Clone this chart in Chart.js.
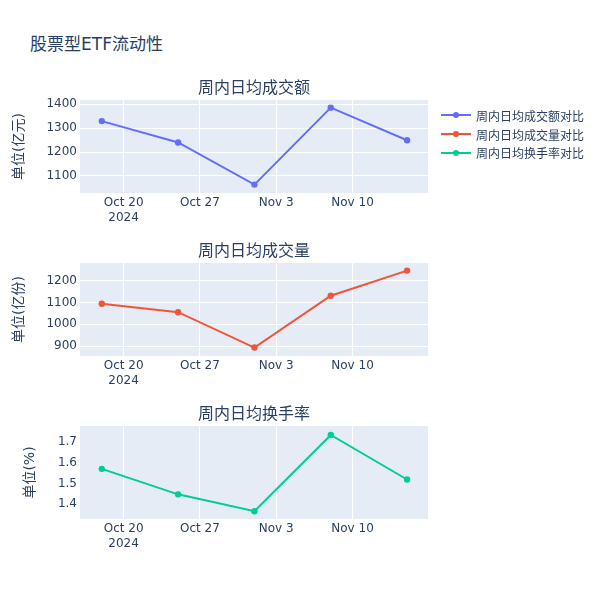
<!DOCTYPE html>
<html>
<head>
<meta charset="utf-8">
<script src="https://cdn.jsdelivr.net/npm/chart.js@4"></script>
<style>
  body { margin: 0; background: #fff; }
  #wrap { position: relative; width: 600px; height: 600px; overflow: hidden;
          font-family: "DejaVu Sans", "Noto Sans CJK SC", sans-serif; color: #2a3f5f; }
  .panel { position: absolute; left: 0; width: 508px; height: 163px; }
  #mainTitle { position: absolute; left: 30px; top: 33px; font-size: 17px; line-height: 22px; }
  #legend { position: absolute; left: 441px; top: 106px; font-size: 12px; }
  .item { height: 18.7px; display: flex; align-items: center; }
  .swatch { position: relative; width: 30px; height: 2px; margin-right: 5px; }
  .swatch span { position: absolute; left: 12px; top: -2px; width: 6px; height: 6px; border-radius: 50%; }
</style>
</head>
<body>
<div id="wrap">
  <div id="mainTitle">股票型ETF流动性</div>
  <div class="panel" style="top:70px"><canvas id="c1"></canvas></div>
  <div class="panel" style="top:233px"><canvas id="c2"></canvas></div>
  <div class="panel" style="top:396px"><canvas id="c3"></canvas></div>
  <div id="legend"></div>
</div>
<script>
// weekly dates (Fridays)
const dates = ['2024-10-18', '2024-10-25', '2024-11-01', '2024-11-08', '2024-11-15'];
const amountValues = [1329, 1240, 1064, 1385, 1249];   // 亿元
const volumeValues = [1095, 1056, 893, 1132, 1248];    // 亿份
const turnoverValues = [1.57, 1.448, 1.367, 1.732, 1.519]; // %

const xTickDates = ['2024-10-20', '2024-10-27', '2024-11-03', '2024-11-10'];
const amountTicks = [1100, 1200, 1300, 1400];
const volumeTicks = [900, 1000, 1100, 1200];
const turnoverTicks = [1.4, 1.5, 1.6, 1.7];

const seriesNames = ['周内日均成交额对比', '周内日均成交量对比', '周内日均换手率对比'];
const panelTitles = ['周内日均成交额', '周内日均成交量', '周内日均换手率'];
const yTitles = ['单位(亿元)', '单位(亿份)', '单位(%)'];
const colors = ['#636efa', '#EF553B', '#00cc96'];

const MONTHS = ['Jan','Feb','Mar','Apr','May','Jun','Jul','Aug','Sep','Oct','Nov','Dec'];
const toDay = s => Date.parse(s + 'T00:00:00Z') / 86400000;
const xMin = toDay('2024-10-16');
const xMax = toDay('2024-11-16') + 0.92;
const FONT = '"DejaVu Sans", "Noto Sans CJK SC", sans-serif';
const INK = '#2a3f5f';

const bgPlugin = {
  id: 'plotBg',
  beforeDraw(chart) {
    const a = chart.chartArea, ctx = chart.ctx;
    ctx.save();
    ctx.fillStyle = '#E5ECF6';
    ctx.fillRect(a.left, a.top, a.right - a.left, a.bottom - a.top);
    ctx.restore();
  }
};

function makePanel(id, idx, values, yTicks, yMin, yMax, showYGrid, yTitlePad) {
  const pts = dates.map((d, i) => ({ x: toDay(d), y: values[i] }));
  return new Chart(document.getElementById(id), {
    type: 'line',
    data: {
      datasets: [{
        label: seriesNames[idx],
        data: pts,
        borderColor: colors[idx],
        backgroundColor: colors[idx],
        borderWidth: 2,
        pointRadius: 3.2,
        pointBorderWidth: 0,
        tension: 0
      }]
    },
    options: {
      responsive: true,
      maintainAspectRatio: false,
      animation: false,
      layout: { padding: { left: 0, right: 80, top: 0, bottom: 0 } },
      plugins: {
        legend: { display: false },
        tooltip: { enabled: false },
        title: {
          display: true,
          fullSize: false,
          text: panelTitles[idx],
          color: INK,
          font: { family: FONT, size: 16, weight: 'normal', lineHeight: 1.2 },
          padding: { top: 9.4, bottom: 1.4 }
        }
      },
      scales: {
        x: {
          type: 'linear',
          min: xMin,
          max: xMax,
          afterBuildTicks: s => { s.ticks = xTickDates.map(d => ({ value: toDay(d) })); },
          afterFit: s => { s.height = 40; },
          grid: { color: '#ffffff', lineWidth: 1, drawTicks: false },
          border: { display: false },
          ticks: {
            padding: 3,
            color: INK,
            font: { family: FONT, size: 12 },
            maxRotation: 0,
            autoSkip: false,
            callback: (v, i) => {
              const d = new Date(v * 86400000);
              const lab = MONTHS[d.getUTCMonth()] + ' ' + d.getUTCDate();
              return i === 0 ? [lab, String(d.getUTCFullYear())] : lab;
            }
          }
        },
        y: {
          type: 'linear',
          min: yMin,
          max: yMax,
          afterBuildTicks: s => { s.ticks = yTicks.map(v => ({ value: v })); },
          afterFit: s => { s.width = 80; },
          grid: { display: showYGrid, color: '#ffffff', lineWidth: 1, drawTicks: false },
          border: { display: false },
          ticks: {
            padding: 3,
            color: INK,
            font: { family: FONT, size: 12 },
            callback: v => String(v)
          },
          title: {
            display: true,
            text: yTitles[idx],
            color: INK,
            font: { family: FONT, size: 14, lineHeight: 1.2 },
            padding: { top: yTitlePad, bottom: 0 }
          }
        }
      }
    },
    plugins: [bgPlugin]
  });
}

makePanel('c1', 0, amountValues, amountTicks, 1029, 1417, true, 11);
makePanel('c2', 1, volumeValues, volumeTicks, 854, 1283, true, 11);
makePanel('c3', 2, turnoverValues, turnoverTicks, 1.330, 1.775, false, 22);

// legend
const legend = document.getElementById('legend');
seriesNames.forEach((name, i) => {
  const row = document.createElement('div');
  row.className = 'item';
  row.innerHTML = '<div class="swatch" style="background:' + colors[i] + '"><span style="background:' +
    colors[i] + '"></span></div><div>' + name + '</div>';
  legend.appendChild(row);
});
</script>
</body>
</html>
